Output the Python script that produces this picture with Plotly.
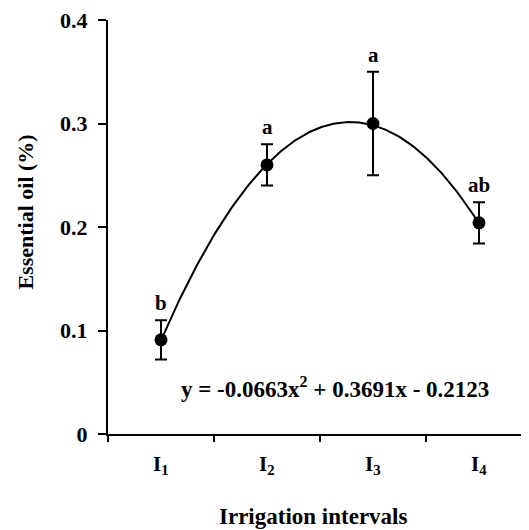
import plotly.graph_objects as go
import numpy as np

categories = ["I<sub>1</sub>", "I<sub>2</sub>", "I<sub>3</sub>", "I<sub>4</sub>"]
x_pos = [1, 2, 3, 4]
essential_oil = [0.091, 0.260, 0.300, 0.204]
err = [0.019, 0.020, 0.050, 0.020]
letters = ["b", "a", "a", "ab"]
coef = [-0.0663, 0.3691, -0.2123]
y_ticks = [0, 0.1, 0.2, 0.3, 0.4]
y_ticktext = ["0", "0.1", "0.2", "0.3", "0.4"]

FONT = "Liberation Serif"

xs = np.linspace(1, 4, 200)
ys = coef[0] * xs**2 + coef[1] * xs + coef[2]

fig = go.Figure()
fig.add_trace(go.Scatter(x=xs, y=ys, mode="lines",
                         line=dict(color="black", width=2), showlegend=False, hoverinfo="skip"))
fig.add_trace(go.Scatter(x=x_pos, y=essential_oil, mode="markers",
                         marker=dict(color="black", size=13),
                         error_y=dict(type="data", array=err, visible=True,
                                      color="black", thickness=2, width=6),
                         showlegend=False))

anns = []
for xp, v, e, t in zip(x_pos, essential_oil, err, letters):
    anns.append(dict(x=xp, y=v + e, text="<b>%s</b>" % t, showarrow=False,
                     yanchor="bottom", yshift=3, font=dict(size=21, family=FONT, color="black")))
for xp, c in zip(x_pos, categories):
    anns.append(dict(x=xp, y=0, text="<b>%s</b>" % c, showarrow=False, yanchor="middle",
                     yshift=-31, font=dict(size=21, family=FONT, color="black")))
anns.append(dict(x=2.64, y=0.045, text="<b>y = -0.0663x<sup>2</sup> + 0.3691x - 0.2123</b>",
                 showarrow=False, font=dict(size=23, family=FONT, color="black")))
anns.append(dict(xref="paper", yref="paper", x=0.487, y=-0.199, text="<b>Irrigation intervals</b>",
                 showarrow=False, yanchor="middle", font=dict(size=23, family=FONT, color="black")))
anns.append(dict(xref="paper", yref="paper", x=-0.197, y=0.535, text="<b>Essential oil (%)</b>",
                 showarrow=False, textangle=-90, xanchor="center", yanchor="middle",
                 font=dict(size=22, family=FONT, color="black")))

fig.update_layout(
    width=521, height=522,
    margin=dict(l=100, r=0, t=9, b=96),
    paper_bgcolor="white", plot_bgcolor="white",
    font=dict(family=FONT, color="black", size=21),
    annotations=anns,
    xaxis=dict(range=[0.5, 0.5 + 421/106], showgrid=False, zeroline=False,
               showline=True, linecolor="black", linewidth=2,
               tickmode="array", tickvals=[0.5, 1.5, 2.5, 3.5], ticktext=["", "", "", ""],
               ticks="outside", ticklen=6, tickwidth=2, tickcolor="black"),
    yaxis=dict(range=[0, 0.4], showgrid=False, zeroline=False,
               showline=True, linecolor="black", linewidth=2,
               tickmode="array", tickvals=y_ticks, ticktext=["<b>%s</b>" % t for t in y_ticktext],
               ticks="outside", ticklen=8, tickwidth=2, tickcolor="black",
               ticklabelstandoff=6, ticklabeloverflow="allow",
               tickfont=dict(size=22, family=FONT, color="black")),
)
fig.write_html("out.html")
